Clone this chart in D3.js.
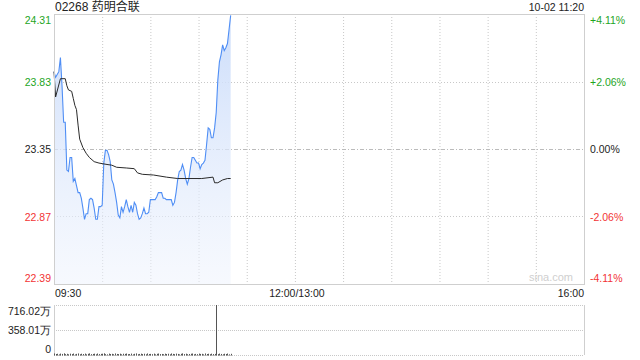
<!DOCTYPE html>
<html>
<head>
<meta charset="utf-8">
<script src="https://cdn.jsdelivr.net/npm/d3@7"></script>
<style>
    body { margin: 0; background: #fff; }
    svg { display: block; font-family: "Liberation Sans", Arial, "Noto Sans CJK SC", sans-serif; }
</style>
</head>
<body>
<div id="chart"></div>
<script>
// ******* DATA *******
const stockTitle = "02268 药明合联";
const stampText = "10-02 11:20";
const prevClose = 23.35;

// one price per minute from 09:30 to 11:20
const prices = [
    23.90, 23.86, 23.88, 23.90, 24.00, 23.80, 23.54, 23.54, 23.20, 23.19,
    23.29, 23.29, 23.12, 23.14, 23.09, 23.04, 23.04, 23.00, 22.93, 22.85,
    22.89, 22.89, 22.99, 23.00, 22.99, 22.93, 22.85, 22.85, 22.94, 22.94,
    22.95, 23.25, 23.34, 23.34, 23.31, 23.26, 23.13, 23.10, 23.04, 22.97,
    22.88, 22.86, 22.94, 22.90, 22.94, 22.99, 22.94, 22.90, 22.95, 22.90,
    22.97, 22.95, 22.89, 22.85, 22.86, 22.89, 22.93, 22.89, 22.89, 22.90,
    22.99, 22.99, 22.99, 22.99, 23.01, 23.04, 23.04, 23.04, 23.00, 23.00,
    22.99, 22.99, 22.99, 22.99, 22.95, 22.97, 23.04, 23.13, 23.19, 23.20,
    23.24, 23.20, 23.14, 23.10, 23.14, 23.22, 23.29, 23.29, 23.27, 23.25,
    23.25, 23.21, 23.24, 23.25, 23.27, 23.38, 23.50, 23.49, 23.43, 23.43,
    23.50, 23.61, 23.84, 23.97, 24.02, 24.09, 24.05, 24.07, 24.10, 24.20,
    24.30
];

// average price line (minute, price)
const avgMinutes = [0, 1, 4, 7, 8, 9, 11, 12, 13, 14, 15, 16, 18, 20, 22, 25, 28, 33, 36, 39,
    45, 50, 52, 55, 62, 70, 77, 92, 99, 100, 102, 105, 108, 110];
const avgPrices = [23.90, 23.72, 23.85, 23.85, 23.80, 23.77, 23.76, 23.71, 23.66, 23.63,
    23.52, 23.42, 23.36, 23.32, 23.29, 23.26, 23.25, 23.24, 23.235, 23.22,
    23.215, 23.21, 23.18, 23.17, 23.165, 23.15, 23.14, 23.14, 23.15, 23.11,
    23.11, 23.13, 23.14, 23.14];

// volume per minute, in 万
const volumes = [
    22, 14, 18, 9, 20, 15, 24, 12, 17, 10,
    19, 13, 21, 8, 16, 22, 11, 18, 14, 20,
    9, 17, 23, 12, 15, 19, 10, 21, 13, 16,
    18, 24, 12, 9, 20, 14, 17, 11, 22, 15,
    13, 19, 10, 18, 16, 21, 12, 14, 20, 9,
    17, 23, 11, 15, 19, 13, 18, 10, 22, 14,
    16, 12, 20, 9, 17, 21, 13, 15, 11, 19,
    14, 18, 10, 22, 16, 12, 20, 15, 9, 17,
    23, 13, 19, 11, 14, 18, 21, 10, 16, 12,
    20, 15, 17, 9, 22, 14, 18, 11, 19, 13,
    16, 716.02, 12, 20, 15, 10, 18, 14, 21, 9,
    17
];

const priceTicks = [24.31, 23.83, 23.35, 22.87, 22.39];
const priceLabels = ["24.31", "23.83", "23.35", "22.87", "22.39"];
const pctLabels = ["+4.11%", "+2.06%", "0.00%", "-2.06%", "-4.11%"];
const volTicks = [716.02, 358.01, 0];
const volLabels = ["716.02万", "358.01万", "0"];
const timeLabels = ["09:30", "12:00/13:00", "16:00"];
const timeLabelMinutes = [0, 150, 330];

// ******* LAYOUT *******
const W = 640, H = 360;
const left = 54, right = 584;
const mainTop = 14, mainBottom = 284;
const volTop = 305, volBottom = 355;

const GREEN = "#1ea51e", RED = "#f23434", TEXT = "#222", GRID = "#c8c8c8";

const svg = d3.select("#chart").append("svg")
    .attr("width", W)
    .attr("height", H);

const x = d3.scaleLinear().domain([0, 330]).range([left, right]);
const y = d3.scaleLinear().domain([22.39, 24.31]).range([mainBottom, mainTop]);
const yv = d3.scaleLinear().domain([0, 716.02]).range([volBottom, volTop]);

function tickColor(v) {
    if (Math.abs(v - prevClose) < 0.001) return TEXT;
    return v > prevClose ? GREEN : RED;
}

// ---- gradient for area
const defs = svg.append("defs");
const grad = defs.append("linearGradient")
    .attr("id", "areaGrad")
    .attr("x1", 0).attr("y1", 0).attr("x2", 0).attr("y2", 1);
grad.append("stop").attr("offset", "0%").attr("stop-color", "#c9dbfa").attr("stop-opacity", 0.95);
grad.append("stop").attr("offset", "100%").attr("stop-color", "#eef3fd").attr("stop-opacity", 0.5);

// ---- vertical gridlines (every 30 minutes)
const gridMinutes = d3.range(30, 330, 30);
svg.append("g").selectAll("line.vg")
    .data(gridMinutes)
    .join("line")
    .attr("x1", d => x(d) + 0.5).attr("x2", d => x(d) + 0.5)
    .attr("y1", mainTop).attr("y2", mainBottom)
    .attr("stroke", GRID)
    .attr("stroke-dasharray", "1,2");

// ---- horizontal gridlines
svg.append("g").selectAll("line.hg")
    .data(priceTicks.slice(1, -1))
    .join("line")
    .attr("x1", left).attr("x2", right)
    .attr("y1", d => Math.round(y(d)) + 0.5).attr("y2", d => Math.round(y(d)) + 0.5)
    .attr("stroke", d => d === prevClose ? "#bbb" : GRID)
    .attr("stroke-dasharray", d => d === prevClose ? "4,2,1,2" : "1,2");

// ---- area + lines
const area = d3.area()
    .x((d, i) => x(i))
    .y0(mainBottom)
    .y1(d => y(d));
svg.append("path")
    .datum(prices)
    .attr("d", area)
    .attr("fill", "url(#areaGrad)");

const priceLine = d3.line()
    .x((d, i) => x(i))
    .y(d => y(d));
svg.append("path")
    .datum(prices)
    .attr("d", priceLine)
    .attr("fill", "none")
    .attr("stroke", "#4f8ef5")
    .attr("stroke-width", 1.1);

const avgLine = d3.line()
    .x(d => x(d[0]))
    .y(d => y(d[1]));
svg.append("path")
    .datum(avgMinutes.map((m, i) => [m, avgPrices[i]]))
    .attr("d", avgLine)
    .attr("fill", "none")
    .attr("stroke", "#2a2a2a")
    .attr("stroke-width", 1);

// ---- main frame
svg.append("rect")
    .attr("x", left + 0.5).attr("y", mainTop + 0.5)
    .attr("width", right - left).attr("height", mainBottom - mainTop)
    .attr("fill", "none")
    .attr("stroke", "#cfcfcf");

// watermark
svg.append("text")
    .attr("x", 573).attr("y", 281)
    .attr("text-anchor", "end")
    .attr("font-size", 11)
    .attr("fill", "#cfcfcf")
    .text("sina.com");

// ---- left price axis
const yAxisLeft = d3.axisLeft(y)
    .tickValues(priceTicks)
    .tickFormat((d, i) => priceLabels[i])
    .tickSize(0)
    .tickPadding(3);
const gl = svg.append("g")
    .attr("transform", `translate(${left},0)`)
    .call(yAxisLeft);
gl.select(".domain").remove();
gl.selectAll("text")
    .attr("font-family", null)
    .attr("font-size", 10.5)
    .attr("fill", d => tickColor(d))
    .attr("dy", (d, i) => i === 0 ? "0.95em" : (i === priceTicks.length - 1 ? "-0.2em" : "0.35em"));

// ---- right percent axis
const yAxisRight = d3.axisRight(y)
    .tickValues(priceTicks)
    .tickFormat((d, i) => pctLabels[i])
    .tickSize(0)
    .tickPadding(6);
const gr = svg.append("g")
    .attr("transform", `translate(${right},0)`)
    .call(yAxisRight);
gr.select(".domain").remove();
gr.selectAll("text")
    .attr("font-family", null)
    .attr("font-size", 10.5)
    .attr("fill", d => tickColor(d))
    .attr("dy", (d, i) => i === 0 ? "0.95em" : (i === priceTicks.length - 1 ? "-0.2em" : "0.35em"));

// ---- time labels
svg.append("g").selectAll("text")
    .data(timeLabels)
    .join("text")
    .attr("x", (d, i) => x(timeLabelMinutes[i]) + (i === 0 ? 1 : (i === 1 ? 2 : 0)))
    .attr("y", 297)
    .attr("text-anchor", (d, i) => ["start", "middle", "end"][i])
    .attr("font-size", 10.5)
    .attr("fill", TEXT)
    .text(d => d);

// ---- title + stamp
svg.append("text")
    .attr("x", 55).attr("y", 11)
    .attr("font-size", 12)
    .attr("fill", TEXT)
    .text(stockTitle);
svg.append("text")
    .attr("x", right).attr("y", 11)
    .attr("text-anchor", "end")
    .attr("font-size", 10.5)
    .attr("fill", TEXT)
    .text(stampText);

// ******* VOLUME PANEL *******
svg.append("g").selectAll("line.vh")
    .data(volTicks)
    .join("line")
    .attr("x1", left).attr("x2", right)
    .attr("y1", d => Math.round(yv(d)) + 0.5).attr("y2", d => Math.round(yv(d)) + 0.5)
    .attr("stroke", GRID)
    .attr("stroke-dasharray", "1,1");

svg.append("line")
    .attr("x1", left + 0.5).attr("x2", left + 0.5)
    .attr("y1", volTop).attr("y2", volBottom)
    .attr("stroke", "#cfcfcf");
svg.append("line")
    .attr("x1", right + 0.5).attr("x2", right + 0.5)
    .attr("y1", volTop).attr("y2", volBottom)
    .attr("stroke", "#cfcfcf");

svg.append("g").selectAll("line.bar")
    .data(volumes)
    .join("line")
    .attr("x1", (d, i) => Math.round(x(i)) + 0.5)
    .attr("x2", (d, i) => Math.round(x(i)) + 0.5)
    .attr("y1", volBottom + 0.5)
    .attr("y2", d => yv(d))
    .attr("stroke", "#555")
    .attr("stroke-width", 1);

const yAxisVol = d3.axisLeft(yv)
    .tickValues(volTicks)
    .tickFormat((d, i) => volLabels[i])
    .tickSize(0)
    .tickPadding(3);
const gv = svg.append("g")
    .attr("transform", `translate(${left},0)`)
    .call(yAxisVol);
gv.select(".domain").remove();
gv.selectAll("text")
    .attr("font-family", null)
    .attr("font-size", 10.5)
    .attr("fill", TEXT)
    .attr("dy", (d, i) => i === 0 ? "0.9em" : (i === volTicks.length - 1 ? "-0.25em" : "0.35em"));
</script>
</body>
</html>
